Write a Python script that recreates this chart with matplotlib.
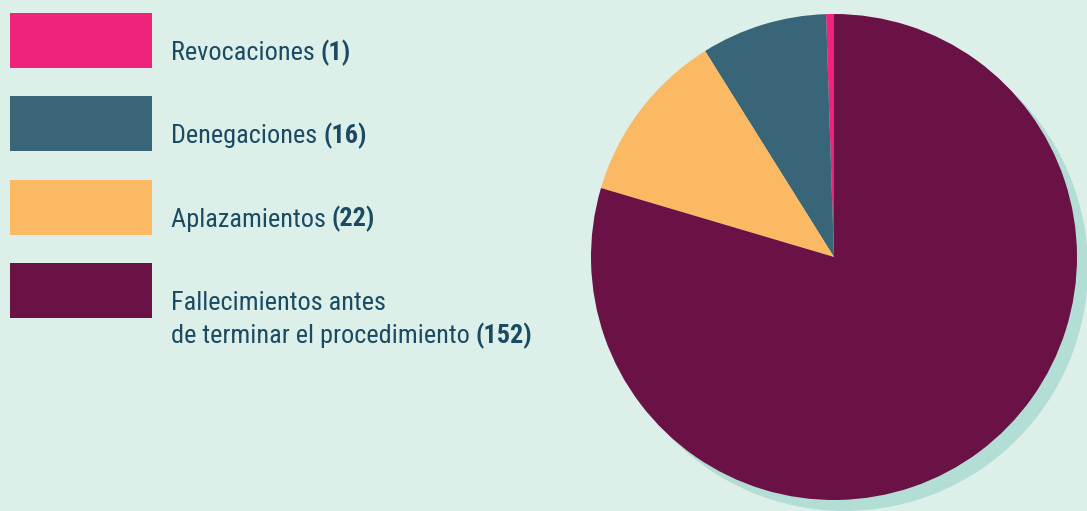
import matplotlib.pyplot as plt
from matplotlib.patches import Rectangle

# -- data --
labels = ["Revocaciones", "Denegaciones", "Aplazamientos",
          "Fallecimientos antes\nde terminar el procedimiento"]
counts = [1, 16, 22, 152]
colors = ["#ef2379", "#386678", "#fbb964", "#6a1146"]

bg = "#dcefe8"
shadow = "#b3ded6"
txt_col = "#1b4a63"
fam = ["Roboto Condensed", "Liberation Sans Narrow", "Roboto", "DejaVu Sans"]

fig = plt.figure(figsize=(10.87, 5.11), dpi=100)
fig.set_facecolor(bg)

# legend drawn in pixel space
lax = fig.add_axes([0, 0, 1, 1])
lax.set_xlim(0, 1087)
lax.set_ylim(511, 0)
lax.axis("off")

fig.canvas.draw()
renderer = fig.canvas.get_renderer()

# pick a font size so the longest line is about as wide as in the original
probe = lax.text(0, 0, "de terminar el procedimiento (152)", fontsize=10, family=fam)
w10 = probe.get_window_extent(renderer).width
probe.remove()
fs = min(20, 10 * 356 / w10)

for i, (lab, n, c) in enumerate(zip(labels, counts, colors)):
    top = 13 + i * 83.3
    lax.add_patch(Rectangle((10, top), 142, 55, facecolor=c, edgecolor="none"))
    lines = lab.split("\n")
    for j, line in enumerate(lines):
        y = top + 47 + j * 33
        t = lax.text(171, y, line + " ", fontsize=fs, family=fam, color=txt_col,
                     va="baseline", ha="left")
        if j == len(lines) - 1:
            bb = t.get_window_extent(renderer)
            x_end = lax.transData.inverted().transform((bb.x1, bb.y0))[0]
            lax.text(x_end, y, "(%d)" % n, fontsize=fs, family=fam,
                     weight="bold", color=txt_col, va="baseline", ha="left")

# pie
ax = fig.add_axes([591 / 1087, 11 / 511, 486 / 1087, 486 / 511])
sh, _ = ax.pie([sum(counts)], colors=[shadow], center=(0.045, -0.045))
wedges, _ = ax.pie(counts, colors=colors, startangle=90, counterclock=True)
for w in list(sh) + list(wedges):
    w.set_clip_on(False)
ax.set_xlim(-1, 1)
ax.set_ylim(-1, 1)
ax.set_aspect("equal")

fig.savefig("out.png", dpi=100, facecolor=bg)
